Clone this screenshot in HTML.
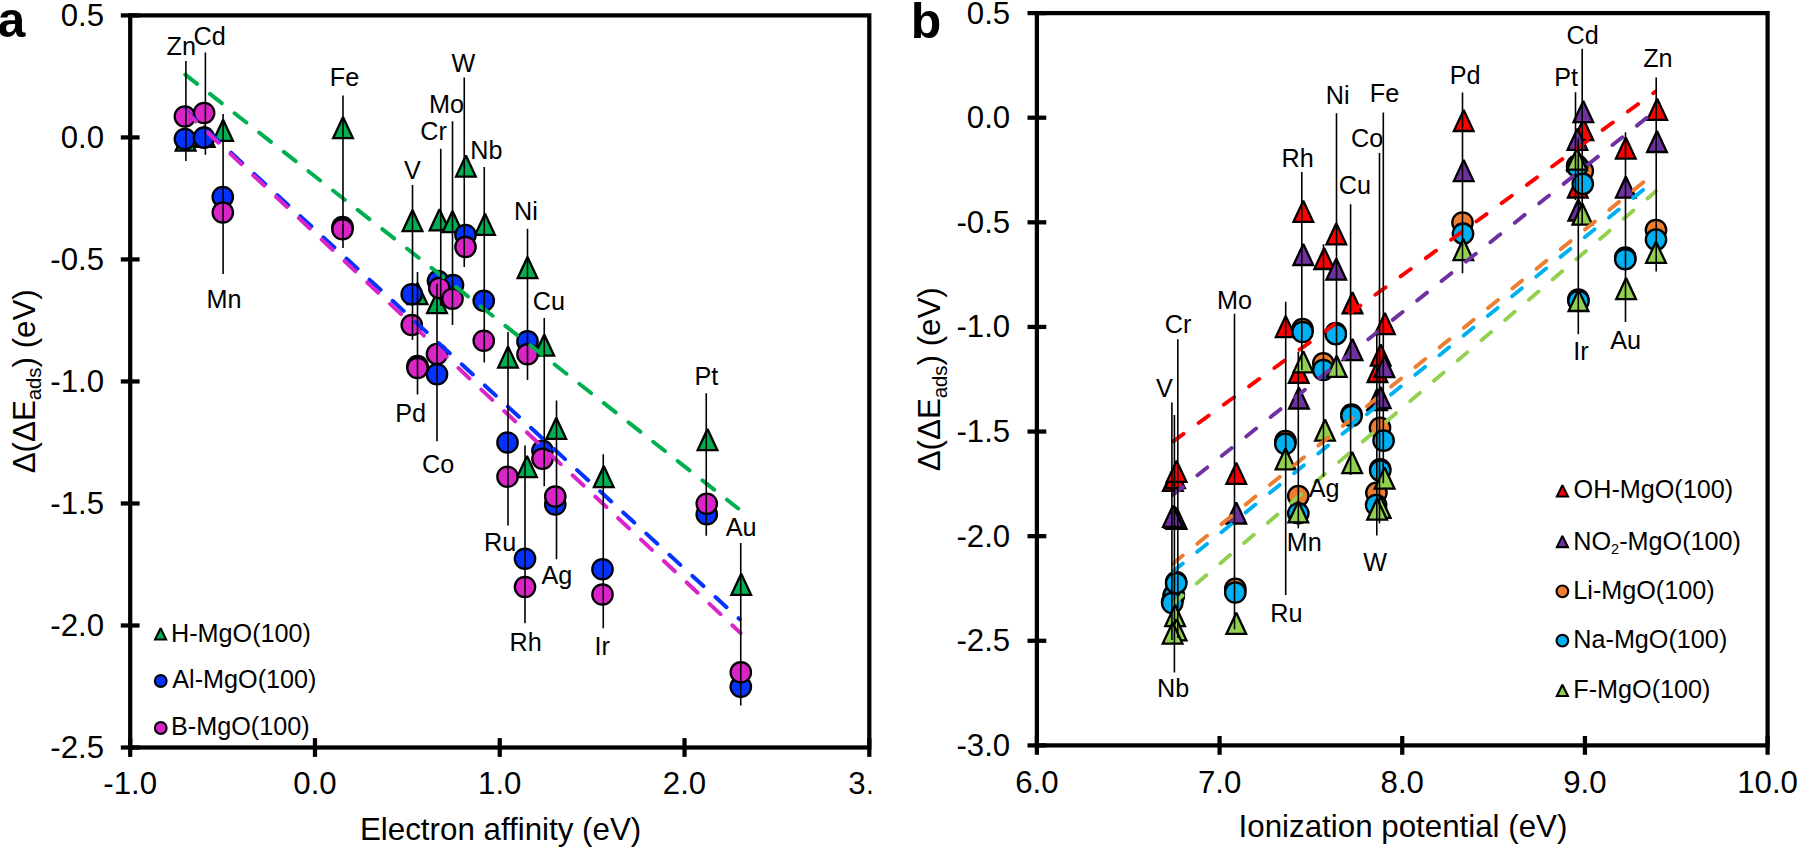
<!DOCTYPE html>
<html lang="en"><head><meta charset="utf-8"><title>Adsorption energy vs electron affinity / ionization potential</title>
<style>html,body{margin:0;padding:0;background:#fff;}body{width:1797px;height:847px;overflow:hidden;}svg{display:block;}</style>
</head><body>
<svg width="1797" height="847" viewBox="0 0 1797 847" font-family='"Liberation Sans", sans-serif' fill="#000">
<defs><clipPath id="clipa"><rect x="0" y="760" width="871.5" height="60"/></clipPath></defs>
<rect width="1797" height="847" fill="#fff"/>
<g id="plot-a">
<rect x="130.20" y="15.40" width="739.10" height="732.10" fill="none" stroke="#000" stroke-width="4.25"/>
<line x1="130.20" y1="738.10" x2="130.20" y2="756.90" stroke="#000" stroke-width="4.25" />
<line x1="314.97" y1="738.10" x2="314.97" y2="756.90" stroke="#000" stroke-width="4.25" />
<line x1="499.75" y1="738.10" x2="499.75" y2="756.90" stroke="#000" stroke-width="4.25" />
<line x1="684.52" y1="738.10" x2="684.52" y2="756.90" stroke="#000" stroke-width="4.25" />
<line x1="869.30" y1="738.10" x2="869.30" y2="756.90" stroke="#000" stroke-width="4.25" />
<line x1="120.80" y1="15.40" x2="139.60" y2="15.40" stroke="#000" stroke-width="4.25" />
<line x1="120.80" y1="137.42" x2="139.60" y2="137.42" stroke="#000" stroke-width="4.25" />
<line x1="120.80" y1="259.43" x2="139.60" y2="259.43" stroke="#000" stroke-width="4.25" />
<line x1="120.80" y1="381.45" x2="139.60" y2="381.45" stroke="#000" stroke-width="4.25" />
<line x1="120.80" y1="503.47" x2="139.60" y2="503.47" stroke="#000" stroke-width="4.25" />
<line x1="120.80" y1="625.48" x2="139.60" y2="625.48" stroke="#000" stroke-width="4.25" />
<line x1="120.80" y1="747.50" x2="139.60" y2="747.50" stroke="#000" stroke-width="4.25" />
<polygon points="185.60,129.46 175.75,150.55 195.45,150.55" fill="#00b050" stroke="#000" stroke-width="2.3" stroke-linejoin="miter" stroke-miterlimit="2"/>
<polygon points="204.70,125.76 194.85,146.85 214.55,146.85" fill="#00b050" stroke="#000" stroke-width="2.3" stroke-linejoin="miter" stroke-miterlimit="2"/>
<polygon points="223.10,119.86 213.25,140.95 232.95,140.95" fill="#00b050" stroke="#000" stroke-width="2.3" stroke-linejoin="miter" stroke-miterlimit="2"/>
<polygon points="343.00,117.11 333.15,138.20 352.85,138.20" fill="#00b050" stroke="#000" stroke-width="2.3" stroke-linejoin="miter" stroke-miterlimit="2"/>
<polygon points="412.50,210.11 402.65,231.20 422.35,231.20" fill="#00b050" stroke="#000" stroke-width="2.3" stroke-linejoin="miter" stroke-miterlimit="2"/>
<polygon points="417.50,283.11 407.65,304.20 427.35,304.20" fill="#00b050" stroke="#000" stroke-width="2.3" stroke-linejoin="miter" stroke-miterlimit="2"/>
<polygon points="437.00,292.11 427.15,313.20 446.85,313.20" fill="#00b050" stroke="#000" stroke-width="2.3" stroke-linejoin="miter" stroke-miterlimit="2"/>
<polygon points="439.50,209.36 429.65,230.45 449.35,230.45" fill="#00b050" stroke="#000" stroke-width="2.3" stroke-linejoin="miter" stroke-miterlimit="2"/>
<polygon points="452.50,211.11 442.65,232.20 462.35,232.20" fill="#00b050" stroke="#000" stroke-width="2.3" stroke-linejoin="miter" stroke-miterlimit="2"/>
<polygon points="465.90,155.51 456.05,176.60 475.75,176.60" fill="#00b050" stroke="#000" stroke-width="2.3" stroke-linejoin="miter" stroke-miterlimit="2"/>
<polygon points="485.00,213.86 475.15,234.95 494.85,234.95" fill="#00b050" stroke="#000" stroke-width="2.3" stroke-linejoin="miter" stroke-miterlimit="2"/>
<polygon points="508.00,346.61 498.15,367.70 517.85,367.70" fill="#00b050" stroke="#000" stroke-width="2.3" stroke-linejoin="miter" stroke-miterlimit="2"/>
<polygon points="527.00,456.11 517.15,477.20 536.85,477.20" fill="#00b050" stroke="#000" stroke-width="2.3" stroke-linejoin="miter" stroke-miterlimit="2"/>
<polygon points="527.50,257.11 517.65,278.20 537.35,278.20" fill="#00b050" stroke="#000" stroke-width="2.3" stroke-linejoin="miter" stroke-miterlimit="2"/>
<polygon points="544.25,334.61 534.40,355.70 554.10,355.70" fill="#00b050" stroke="#000" stroke-width="2.3" stroke-linejoin="miter" stroke-miterlimit="2"/>
<polygon points="556.25,417.71 546.40,438.80 566.10,438.80" fill="#00b050" stroke="#000" stroke-width="2.3" stroke-linejoin="miter" stroke-miterlimit="2"/>
<polygon points="603.75,466.11 593.90,487.20 613.60,487.20" fill="#00b050" stroke="#000" stroke-width="2.3" stroke-linejoin="miter" stroke-miterlimit="2"/>
<polygon points="707.50,429.11 697.65,450.20 717.35,450.20" fill="#00b050" stroke="#000" stroke-width="2.3" stroke-linejoin="miter" stroke-miterlimit="2"/>
<polygon points="741.20,573.71 731.35,594.80 751.05,594.80" fill="#00b050" stroke="#000" stroke-width="2.3" stroke-linejoin="miter" stroke-miterlimit="2"/>
<circle cx="184.90" cy="139.00" r="10.2" fill="#0433ff" stroke="#000" stroke-width="2.3"/>
<circle cx="204.00" cy="137.70" r="10.2" fill="#0433ff" stroke="#000" stroke-width="2.3"/>
<circle cx="222.80" cy="197.00" r="10.2" fill="#0433ff" stroke="#000" stroke-width="2.3"/>
<circle cx="342.50" cy="227.00" r="10.2" fill="#0433ff" stroke="#000" stroke-width="2.3"/>
<circle cx="411.75" cy="294.25" r="10.2" fill="#0433ff" stroke="#000" stroke-width="2.3"/>
<circle cx="417.50" cy="366.00" r="10.2" fill="#0433ff" stroke="#000" stroke-width="2.3"/>
<circle cx="437.00" cy="374.25" r="10.2" fill="#0433ff" stroke="#000" stroke-width="2.3"/>
<circle cx="438.00" cy="281.00" r="10.2" fill="#0433ff" stroke="#000" stroke-width="2.3"/>
<circle cx="453.00" cy="285.00" r="10.2" fill="#0433ff" stroke="#000" stroke-width="2.3"/>
<circle cx="465.50" cy="235.00" r="10.2" fill="#0433ff" stroke="#000" stroke-width="2.3"/>
<circle cx="483.75" cy="300.75" r="10.2" fill="#0433ff" stroke="#000" stroke-width="2.3"/>
<circle cx="507.50" cy="442.50" r="10.2" fill="#0433ff" stroke="#000" stroke-width="2.3"/>
<circle cx="525.00" cy="558.75" r="10.2" fill="#0433ff" stroke="#000" stroke-width="2.3"/>
<circle cx="527.50" cy="341.25" r="10.2" fill="#0433ff" stroke="#000" stroke-width="2.3"/>
<circle cx="542.50" cy="450.75" r="10.2" fill="#0433ff" stroke="#000" stroke-width="2.3"/>
<circle cx="555.25" cy="504.50" r="10.2" fill="#0433ff" stroke="#000" stroke-width="2.3"/>
<circle cx="602.50" cy="569.25" r="10.2" fill="#0433ff" stroke="#000" stroke-width="2.3"/>
<circle cx="706.75" cy="514.25" r="10.2" fill="#0433ff" stroke="#000" stroke-width="2.3"/>
<circle cx="740.80" cy="686.80" r="10.2" fill="#0433ff" stroke="#000" stroke-width="2.3"/>
<circle cx="184.90" cy="116.50" r="10.2" fill="#da24c8" stroke="#000" stroke-width="2.3"/>
<circle cx="204.10" cy="113.00" r="10.2" fill="#da24c8" stroke="#000" stroke-width="2.3"/>
<circle cx="222.80" cy="212.50" r="10.2" fill="#da24c8" stroke="#000" stroke-width="2.3"/>
<circle cx="342.50" cy="229.25" r="10.2" fill="#da24c8" stroke="#000" stroke-width="2.3"/>
<circle cx="411.75" cy="325.00" r="10.2" fill="#da24c8" stroke="#000" stroke-width="2.3"/>
<circle cx="417.50" cy="368.00" r="10.2" fill="#da24c8" stroke="#000" stroke-width="2.3"/>
<circle cx="437.00" cy="354.00" r="10.2" fill="#da24c8" stroke="#000" stroke-width="2.3"/>
<circle cx="439.25" cy="288.00" r="10.2" fill="#da24c8" stroke="#000" stroke-width="2.3"/>
<circle cx="452.50" cy="298.75" r="10.2" fill="#da24c8" stroke="#000" stroke-width="2.3"/>
<circle cx="465.50" cy="247.00" r="10.2" fill="#da24c8" stroke="#000" stroke-width="2.3"/>
<circle cx="483.75" cy="340.75" r="10.2" fill="#da24c8" stroke="#000" stroke-width="2.3"/>
<circle cx="507.50" cy="476.75" r="10.2" fill="#da24c8" stroke="#000" stroke-width="2.3"/>
<circle cx="525.00" cy="587.00" r="10.2" fill="#da24c8" stroke="#000" stroke-width="2.3"/>
<circle cx="527.50" cy="354.25" r="10.2" fill="#da24c8" stroke="#000" stroke-width="2.3"/>
<circle cx="542.50" cy="458.75" r="10.2" fill="#da24c8" stroke="#000" stroke-width="2.3"/>
<circle cx="555.25" cy="496.50" r="10.2" fill="#da24c8" stroke="#000" stroke-width="2.3"/>
<circle cx="602.50" cy="594.50" r="10.2" fill="#da24c8" stroke="#000" stroke-width="2.3"/>
<circle cx="706.75" cy="503.75" r="10.2" fill="#da24c8" stroke="#000" stroke-width="2.3"/>
<circle cx="740.80" cy="672.30" r="10.2" fill="#da24c8" stroke="#000" stroke-width="2.3"/>
<line x1="185.30" y1="74.60" x2="738.20" y2="508.50" stroke="#00b050" stroke-width="4.0" stroke-dasharray="15 16.3" stroke-linecap="round" fill="none"/>
<line x1="185.00" y1="110.40" x2="739.80" y2="619.40" stroke="#0433ff" stroke-width="4.0" stroke-dasharray="15 16.3" stroke-linecap="round" fill="none"/>
<line x1="184.80" y1="111.00" x2="740.60" y2="633.10" stroke="#da24c8" stroke-width="4.0" stroke-dasharray="15 16.3" stroke-linecap="round" fill="none"/>
<line x1="185.90" y1="61.00" x2="185.90" y2="161.00" stroke="#000" stroke-width="1.6" />
<line x1="205.40" y1="52.50" x2="205.40" y2="154.80" stroke="#000" stroke-width="1.6" />
<line x1="223.10" y1="114.00" x2="223.10" y2="274.00" stroke="#000" stroke-width="1.6" />
<line x1="343.00" y1="95.50" x2="343.00" y2="248.00" stroke="#000" stroke-width="1.6" />
<line x1="412.50" y1="185.00" x2="412.50" y2="340.00" stroke="#000" stroke-width="1.6" />
<line x1="417.50" y1="272.00" x2="417.50" y2="394.50" stroke="#000" stroke-width="1.6" />
<line x1="437.00" y1="283.75" x2="437.00" y2="441.25" stroke="#000" stroke-width="1.6" />
<line x1="440.75" y1="148.75" x2="440.75" y2="306.00" stroke="#000" stroke-width="1.6" />
<line x1="452.50" y1="121.25" x2="452.50" y2="325.00" stroke="#000" stroke-width="1.6" />
<line x1="464.25" y1="77.50" x2="464.25" y2="267.00" stroke="#000" stroke-width="1.6" />
<line x1="484.25" y1="167.00" x2="484.25" y2="362.50" stroke="#000" stroke-width="1.6" />
<line x1="508.00" y1="332.00" x2="508.00" y2="525.50" stroke="#000" stroke-width="1.6" />
<line x1="525.00" y1="445.50" x2="525.00" y2="623.25" stroke="#000" stroke-width="1.6" />
<line x1="527.50" y1="228.75" x2="527.50" y2="380.00" stroke="#000" stroke-width="1.6" />
<line x1="544.25" y1="318.00" x2="544.25" y2="486.25" stroke="#000" stroke-width="1.6" />
<line x1="556.50" y1="400.50" x2="556.50" y2="559.25" stroke="#000" stroke-width="1.6" />
<line x1="603.25" y1="454.25" x2="603.25" y2="628.25" stroke="#000" stroke-width="1.6" />
<line x1="706.25" y1="393.25" x2="706.25" y2="535.75" stroke="#000" stroke-width="1.6" />
<line x1="740.75" y1="543.00" x2="740.75" y2="705.50" stroke="#000" stroke-width="1.6" />
<g font-size="25.2">
<text x="166.50" y="54.95">Zn</text>
<text x="193.50" y="45.20">Cd</text>
<text x="206.50" y="308.20">Mn</text>
<text x="329.75" y="86.45">Fe</text>
<text x="404.00" y="178.70">V</text>
<text x="395.25" y="421.95">Pd</text>
<text x="422.00" y="473.20">Co</text>
<text x="420.25" y="140.20">Cr</text>
<text x="429.00" y="112.70">Mo</text>
<text x="451.50" y="71.95">W</text>
<text x="470.25" y="158.95">Nb</text>
<text x="484.00" y="550.70">Ru</text>
<text x="509.50" y="651.45">Rh</text>
<text x="514.00" y="220.20">Ni</text>
<text x="532.75" y="309.95">Cu</text>
<text x="541.50" y="583.70">Ag</text>
<text x="594.50" y="654.95">Ir</text>
<text x="694.50" y="385.20">Pt</text>
<text x="725.75" y="535.70">Au</text>
</g>
<g font-size="31.2" text-anchor="middle">
<text x="130.20" y="794">-1.0</text>
<text x="314.97" y="794">0.0</text>
<text x="499.75" y="794">1.0</text>
<text x="684.52" y="794">2.0</text>
</g>
<text x="848.30" y="794" font-size="31.2" clip-path="url(#clipa)">3.0</text>
<g font-size="31.2" text-anchor="end">
<text x="104" y="26.30">0.5</text>
<text x="104" y="148.32">0.0</text>
<text x="104" y="270.33">-0.5</text>
<text x="104" y="392.35">-1.0</text>
<text x="104" y="514.37">-1.5</text>
<text x="104" y="636.38">-2.0</text>
<text x="104" y="758.40">-2.5</text>
</g>
<text x="500.60" y="839.70" font-size="31.3" text-anchor="middle" >Electron affinity (eV)</text>
<text transform="translate(34.6,473.3) rotate(-90)" font-size="31.3">Δ(ΔE<tspan font-size="20.3" dy="6.5">ads</tspan><tspan dy="-6.5">) (eV)</tspan></text>
<polygon points="160.60,628.26 155.08,639.51 166.12,639.51" fill="#00b050" stroke="#000" stroke-width="2.1" stroke-linejoin="miter" stroke-miterlimit="2"/>
<circle cx="160.75" cy="681.00" r="5.85" fill="#0433ff" stroke="#000" stroke-width="2.1"/>
<circle cx="160.75" cy="728.00" r="5.85" fill="#da24c8" stroke="#000" stroke-width="2.1"/>
<g font-size="25.2">
<text x="171" y="641.5">H-MgO(100)</text>
<text x="172.3" y="687.7">Al-MgO(100)</text>
<text x="171" y="734.5">B-MgO(100)</text>
</g>
<text x="-2.5" y="37.4" font-size="50" font-weight="bold">a</text>
</g>
<g id="plot-b">
<rect x="1036.90" y="13.10" width="730.70" height="732.30" fill="none" stroke="#000" stroke-width="4.25"/>
<line x1="1036.90" y1="736.00" x2="1036.90" y2="754.80" stroke="#000" stroke-width="4.25" />
<line x1="1219.58" y1="736.00" x2="1219.58" y2="754.80" stroke="#000" stroke-width="4.25" />
<line x1="1402.25" y1="736.00" x2="1402.25" y2="754.80" stroke="#000" stroke-width="4.25" />
<line x1="1584.92" y1="736.00" x2="1584.92" y2="754.80" stroke="#000" stroke-width="4.25" />
<line x1="1767.60" y1="736.00" x2="1767.60" y2="754.80" stroke="#000" stroke-width="4.25" />
<line x1="1027.50" y1="13.10" x2="1046.30" y2="13.10" stroke="#000" stroke-width="4.25" />
<line x1="1027.50" y1="117.71" x2="1046.30" y2="117.71" stroke="#000" stroke-width="4.25" />
<line x1="1027.50" y1="222.33" x2="1046.30" y2="222.33" stroke="#000" stroke-width="4.25" />
<line x1="1027.50" y1="326.94" x2="1046.30" y2="326.94" stroke="#000" stroke-width="4.25" />
<line x1="1027.50" y1="431.56" x2="1046.30" y2="431.56" stroke="#000" stroke-width="4.25" />
<line x1="1027.50" y1="536.17" x2="1046.30" y2="536.17" stroke="#000" stroke-width="4.25" />
<line x1="1027.50" y1="640.79" x2="1046.30" y2="640.79" stroke="#000" stroke-width="4.25" />
<line x1="1027.50" y1="745.40" x2="1046.30" y2="745.40" stroke="#000" stroke-width="4.25" />
<polygon points="1172.90,469.71 1163.05,490.80 1182.75,490.80" fill="#ff0000" stroke="#000" stroke-width="2.3" stroke-linejoin="miter" stroke-miterlimit="2"/>
<polygon points="1175.00,467.11 1165.15,488.20 1184.85,488.20" fill="#ff0000" stroke="#000" stroke-width="2.3" stroke-linejoin="miter" stroke-miterlimit="2"/>
<polygon points="1176.60,460.71 1166.75,481.80 1186.45,481.80" fill="#ff0000" stroke="#000" stroke-width="2.3" stroke-linejoin="miter" stroke-miterlimit="2"/>
<polygon points="1236.30,462.71 1226.45,483.80 1246.15,483.80" fill="#ff0000" stroke="#000" stroke-width="2.3" stroke-linejoin="miter" stroke-miterlimit="2"/>
<polygon points="1285.70,316.01 1275.85,337.10 1295.55,337.10" fill="#ff0000" stroke="#000" stroke-width="2.3" stroke-linejoin="miter" stroke-miterlimit="2"/>
<polygon points="1298.70,361.81 1288.85,382.90 1308.55,382.90" fill="#ff0000" stroke="#000" stroke-width="2.3" stroke-linejoin="miter" stroke-miterlimit="2"/>
<polygon points="1303.30,200.81 1293.45,221.90 1313.15,221.90" fill="#ff0000" stroke="#000" stroke-width="2.3" stroke-linejoin="miter" stroke-miterlimit="2"/>
<polygon points="1324.20,247.91 1314.35,269.00 1334.05,269.00" fill="#ff0000" stroke="#000" stroke-width="2.3" stroke-linejoin="miter" stroke-miterlimit="2"/>
<polygon points="1336.30,223.31 1326.45,244.40 1346.15,244.40" fill="#ff0000" stroke="#000" stroke-width="2.3" stroke-linejoin="miter" stroke-miterlimit="2"/>
<polygon points="1352.50,292.31 1342.65,313.40 1362.35,313.40" fill="#ff0000" stroke="#000" stroke-width="2.3" stroke-linejoin="miter" stroke-miterlimit="2"/>
<polygon points="1377.40,360.91 1367.55,382.00 1387.25,382.00" fill="#ff0000" stroke="#000" stroke-width="2.3" stroke-linejoin="miter" stroke-miterlimit="2"/>
<polygon points="1380.70,344.51 1370.85,365.60 1390.55,365.60" fill="#ff0000" stroke="#000" stroke-width="2.3" stroke-linejoin="miter" stroke-miterlimit="2"/>
<polygon points="1384.90,313.01 1375.05,334.10 1394.75,334.10" fill="#ff0000" stroke="#000" stroke-width="2.3" stroke-linejoin="miter" stroke-miterlimit="2"/>
<polygon points="1463.70,109.91 1453.85,131.00 1473.55,131.00" fill="#ff0000" stroke="#000" stroke-width="2.3" stroke-linejoin="miter" stroke-miterlimit="2"/>
<polygon points="1577.40,150.11 1567.55,171.20 1587.25,171.20" fill="#ff0000" stroke="#000" stroke-width="2.3" stroke-linejoin="miter" stroke-miterlimit="2"/>
<polygon points="1577.80,176.41 1567.95,197.50 1587.65,197.50" fill="#ff0000" stroke="#000" stroke-width="2.3" stroke-linejoin="miter" stroke-miterlimit="2"/>
<polygon points="1583.40,119.11 1573.55,140.20 1593.25,140.20" fill="#ff0000" stroke="#000" stroke-width="2.3" stroke-linejoin="miter" stroke-miterlimit="2"/>
<polygon points="1625.80,137.51 1615.95,158.60 1635.65,158.60" fill="#ff0000" stroke="#000" stroke-width="2.3" stroke-linejoin="miter" stroke-miterlimit="2"/>
<polygon points="1657.20,98.71 1647.35,119.80 1667.05,119.80" fill="#ff0000" stroke="#000" stroke-width="2.3" stroke-linejoin="miter" stroke-miterlimit="2"/>
<polygon points="1174.80,506.71 1164.95,527.80 1184.65,527.80" fill="#7030a0" stroke="#000" stroke-width="2.3" stroke-linejoin="miter" stroke-miterlimit="2"/>
<polygon points="1176.60,507.71 1166.75,528.80 1186.45,528.80" fill="#7030a0" stroke="#000" stroke-width="2.3" stroke-linejoin="miter" stroke-miterlimit="2"/>
<polygon points="1236.30,502.41 1226.45,523.50 1246.15,523.50" fill="#7030a0" stroke="#000" stroke-width="2.3" stroke-linejoin="miter" stroke-miterlimit="2"/>
<polygon points="1298.90,387.41 1289.05,408.50 1308.75,408.50" fill="#7030a0" stroke="#000" stroke-width="2.3" stroke-linejoin="miter" stroke-miterlimit="2"/>
<polygon points="1303.30,243.91 1293.45,265.00 1313.15,265.00" fill="#7030a0" stroke="#000" stroke-width="2.3" stroke-linejoin="miter" stroke-miterlimit="2"/>
<polygon points="1336.30,258.61 1326.45,279.70 1346.15,279.70" fill="#7030a0" stroke="#000" stroke-width="2.3" stroke-linejoin="miter" stroke-miterlimit="2"/>
<polygon points="1352.50,339.01 1342.65,360.10 1362.35,360.10" fill="#7030a0" stroke="#000" stroke-width="2.3" stroke-linejoin="miter" stroke-miterlimit="2"/>
<polygon points="1377.10,389.11 1367.25,410.20 1386.95,410.20" fill="#7030a0" stroke="#000" stroke-width="2.3" stroke-linejoin="miter" stroke-miterlimit="2"/>
<polygon points="1380.70,387.11 1370.85,408.20 1390.55,408.20" fill="#7030a0" stroke="#000" stroke-width="2.3" stroke-linejoin="miter" stroke-miterlimit="2"/>
<polygon points="1384.40,356.11 1374.55,377.20 1394.25,377.20" fill="#7030a0" stroke="#000" stroke-width="2.3" stroke-linejoin="miter" stroke-miterlimit="2"/>
<polygon points="1463.70,160.11 1453.85,181.20 1473.55,181.20" fill="#7030a0" stroke="#000" stroke-width="2.3" stroke-linejoin="miter" stroke-miterlimit="2"/>
<polygon points="1577.40,128.81 1567.55,149.90 1587.25,149.90" fill="#7030a0" stroke="#000" stroke-width="2.3" stroke-linejoin="miter" stroke-miterlimit="2"/>
<polygon points="1578.30,199.41 1568.45,220.50 1588.15,220.50" fill="#7030a0" stroke="#000" stroke-width="2.3" stroke-linejoin="miter" stroke-miterlimit="2"/>
<polygon points="1583.30,101.11 1573.45,122.20 1593.15,122.20" fill="#7030a0" stroke="#000" stroke-width="2.3" stroke-linejoin="miter" stroke-miterlimit="2"/>
<polygon points="1625.80,176.61 1615.95,197.70 1635.65,197.70" fill="#7030a0" stroke="#000" stroke-width="2.3" stroke-linejoin="miter" stroke-miterlimit="2"/>
<polygon points="1657.00,130.91 1647.15,152.00 1666.85,152.00" fill="#7030a0" stroke="#000" stroke-width="2.3" stroke-linejoin="miter" stroke-miterlimit="2"/>
<polygon points="1172.90,505.71 1163.05,526.80 1182.75,526.80" fill="#7030a0" stroke="#000" stroke-width="2.3" stroke-linejoin="miter" stroke-miterlimit="2"/>
<circle cx="1172.20" cy="601.80" r="10.2" fill="#ed7d31" stroke="#000" stroke-width="2.3"/>
<circle cx="1173.80" cy="595.00" r="10.2" fill="#ed7d31" stroke="#000" stroke-width="2.3"/>
<circle cx="1176.20" cy="582.00" r="10.2" fill="#ed7d31" stroke="#000" stroke-width="2.3"/>
<circle cx="1235.30" cy="588.90" r="10.2" fill="#ed7d31" stroke="#000" stroke-width="2.3"/>
<circle cx="1285.50" cy="441.00" r="10.2" fill="#ed7d31" stroke="#000" stroke-width="2.3"/>
<circle cx="1298.30" cy="496.10" r="10.2" fill="#ed7d31" stroke="#000" stroke-width="2.3"/>
<circle cx="1302.50" cy="329.00" r="10.2" fill="#ed7d31" stroke="#000" stroke-width="2.3"/>
<circle cx="1323.30" cy="363.30" r="10.2" fill="#ed7d31" stroke="#000" stroke-width="2.3"/>
<circle cx="1335.80" cy="333.00" r="10.2" fill="#ed7d31" stroke="#000" stroke-width="2.3"/>
<circle cx="1351.50" cy="414.60" r="10.2" fill="#ed7d31" stroke="#000" stroke-width="2.3"/>
<circle cx="1376.40" cy="492.80" r="10.2" fill="#ed7d31" stroke="#000" stroke-width="2.3"/>
<circle cx="1380.20" cy="469.30" r="10.2" fill="#ed7d31" stroke="#000" stroke-width="2.3"/>
<circle cx="1380.00" cy="427.80" r="10.2" fill="#ed7d31" stroke="#000" stroke-width="2.3"/>
<circle cx="1462.50" cy="222.50" r="10.2" fill="#ed7d31" stroke="#000" stroke-width="2.3"/>
<circle cx="1577.20" cy="165.50" r="10.2" fill="#ed7d31" stroke="#000" stroke-width="2.3"/>
<circle cx="1578.30" cy="299.50" r="10.2" fill="#ed7d31" stroke="#000" stroke-width="2.3"/>
<circle cx="1582.80" cy="171.10" r="10.2" fill="#ed7d31" stroke="#000" stroke-width="2.3"/>
<circle cx="1625.30" cy="257.50" r="10.2" fill="#ed7d31" stroke="#000" stroke-width="2.3"/>
<circle cx="1656.00" cy="230.00" r="10.2" fill="#ed7d31" stroke="#000" stroke-width="2.3"/>
<circle cx="1173.80" cy="596.00" r="10.2" fill="#00b0f0" stroke="#000" stroke-width="2.3"/>
<circle cx="1176.20" cy="583.20" r="10.2" fill="#00b0f0" stroke="#000" stroke-width="2.3"/>
<circle cx="1235.30" cy="592.50" r="10.2" fill="#00b0f0" stroke="#000" stroke-width="2.3"/>
<circle cx="1285.30" cy="443.80" r="10.2" fill="#00b0f0" stroke="#000" stroke-width="2.3"/>
<circle cx="1298.30" cy="513.30" r="10.2" fill="#00b0f0" stroke="#000" stroke-width="2.3"/>
<circle cx="1302.50" cy="332.00" r="10.2" fill="#00b0f0" stroke="#000" stroke-width="2.3"/>
<circle cx="1323.30" cy="370.00" r="10.2" fill="#00b0f0" stroke="#000" stroke-width="2.3"/>
<circle cx="1335.80" cy="334.20" r="10.2" fill="#00b0f0" stroke="#000" stroke-width="2.3"/>
<circle cx="1351.50" cy="416.00" r="10.2" fill="#00b0f0" stroke="#000" stroke-width="2.3"/>
<circle cx="1376.10" cy="505.00" r="10.2" fill="#00b0f0" stroke="#000" stroke-width="2.3"/>
<circle cx="1380.20" cy="470.60" r="10.2" fill="#00b0f0" stroke="#000" stroke-width="2.3"/>
<circle cx="1383.60" cy="440.60" r="10.2" fill="#00b0f0" stroke="#000" stroke-width="2.3"/>
<circle cx="1463.00" cy="233.70" r="10.2" fill="#00b0f0" stroke="#000" stroke-width="2.3"/>
<circle cx="1577.20" cy="166.70" r="10.2" fill="#00b0f0" stroke="#000" stroke-width="2.3"/>
<circle cx="1578.50" cy="301.00" r="10.2" fill="#00b0f0" stroke="#000" stroke-width="2.3"/>
<circle cx="1582.80" cy="183.90" r="10.2" fill="#00b0f0" stroke="#000" stroke-width="2.3"/>
<circle cx="1625.30" cy="259.20" r="10.2" fill="#00b0f0" stroke="#000" stroke-width="2.3"/>
<circle cx="1656.00" cy="239.60" r="10.2" fill="#00b0f0" stroke="#000" stroke-width="2.3"/>
<circle cx="1172.20" cy="603.00" r="10.2" fill="#00b0f0" stroke="#000" stroke-width="2.3"/>
<polygon points="1175.10,605.11 1165.25,626.20 1184.95,626.20" fill="#92d050" stroke="#000" stroke-width="2.3" stroke-linejoin="miter" stroke-miterlimit="2"/>
<polygon points="1176.60,619.21 1166.75,640.30 1186.45,640.30" fill="#92d050" stroke="#000" stroke-width="2.3" stroke-linejoin="miter" stroke-miterlimit="2"/>
<polygon points="1236.30,612.81 1226.45,633.90 1246.15,633.90" fill="#92d050" stroke="#000" stroke-width="2.3" stroke-linejoin="miter" stroke-miterlimit="2"/>
<polygon points="1285.50,448.31 1275.65,469.40 1295.35,469.40" fill="#92d050" stroke="#000" stroke-width="2.3" stroke-linejoin="miter" stroke-miterlimit="2"/>
<polygon points="1298.30,501.31 1288.45,522.40 1308.15,522.40" fill="#92d050" stroke="#000" stroke-width="2.3" stroke-linejoin="miter" stroke-miterlimit="2"/>
<polygon points="1303.30,351.21 1293.45,372.30 1313.15,372.30" fill="#92d050" stroke="#000" stroke-width="2.3" stroke-linejoin="miter" stroke-miterlimit="2"/>
<polygon points="1325.00,419.61 1315.15,440.70 1334.85,440.70" fill="#92d050" stroke="#000" stroke-width="2.3" stroke-linejoin="miter" stroke-miterlimit="2"/>
<polygon points="1336.70,355.81 1326.85,376.90 1346.55,376.90" fill="#92d050" stroke="#000" stroke-width="2.3" stroke-linejoin="miter" stroke-miterlimit="2"/>
<polygon points="1352.20,452.11 1342.35,473.20 1362.05,473.20" fill="#92d050" stroke="#000" stroke-width="2.3" stroke-linejoin="miter" stroke-miterlimit="2"/>
<polygon points="1380.70,496.81 1370.85,517.90 1390.55,517.90" fill="#92d050" stroke="#000" stroke-width="2.3" stroke-linejoin="miter" stroke-miterlimit="2"/>
<polygon points="1384.60,467.51 1374.75,488.60 1394.45,488.60" fill="#92d050" stroke="#000" stroke-width="2.3" stroke-linejoin="miter" stroke-miterlimit="2"/>
<polygon points="1463.30,239.11 1453.45,260.20 1473.15,260.20" fill="#92d050" stroke="#000" stroke-width="2.3" stroke-linejoin="miter" stroke-miterlimit="2"/>
<polygon points="1576.90,148.61 1567.05,169.70 1586.75,169.70" fill="#92d050" stroke="#000" stroke-width="2.3" stroke-linejoin="miter" stroke-miterlimit="2"/>
<polygon points="1578.50,289.91 1568.65,311.00 1588.35,311.00" fill="#92d050" stroke="#000" stroke-width="2.3" stroke-linejoin="miter" stroke-miterlimit="2"/>
<polygon points="1582.40,203.61 1572.55,224.70 1592.25,224.70" fill="#92d050" stroke="#000" stroke-width="2.3" stroke-linejoin="miter" stroke-miterlimit="2"/>
<polygon points="1626.10,278.11 1616.25,299.20 1635.95,299.20" fill="#92d050" stroke="#000" stroke-width="2.3" stroke-linejoin="miter" stroke-miterlimit="2"/>
<polygon points="1656.00,241.71 1646.15,262.80 1665.85,262.80" fill="#92d050" stroke="#000" stroke-width="2.3" stroke-linejoin="miter" stroke-miterlimit="2"/>
<polygon points="1172.60,622.51 1162.75,643.60 1182.45,643.60" fill="#92d050" stroke="#000" stroke-width="2.3" stroke-linejoin="miter" stroke-miterlimit="2"/>
<polygon points="1377.10,498.61 1367.25,519.70 1386.95,519.70" fill="#92d050" stroke="#000" stroke-width="2.3" stroke-linejoin="miter" stroke-miterlimit="2"/>
<line x1="1173.30" y1="441.30" x2="1655.10" y2="91.80" stroke="#ff0000" stroke-width="3.9" stroke-dasharray="12.6 18.6" stroke-linecap="round" fill="none"/>
<line x1="1173.00" y1="494.70" x2="1655.00" y2="111.20" stroke="#7030a0" stroke-width="3.9" stroke-dasharray="12.6 18.6" stroke-linecap="round" fill="none"/>
<line x1="1173.00" y1="563.40" x2="1655.00" y2="172.80" stroke="#ed7d31" stroke-width="3.9" stroke-dasharray="12.6 18.6" stroke-linecap="round" fill="none"/>
<line x1="1173.00" y1="571.50" x2="1655.00" y2="180.20" stroke="#00b0f0" stroke-width="3.9" stroke-dasharray="12.6 18.6" stroke-linecap="round" fill="none"/>
<line x1="1173.00" y1="603.70" x2="1656.00" y2="191.20" stroke="#92d050" stroke-width="3.9" stroke-dasharray="12.6 18.6" stroke-linecap="round" fill="none"/>
<line x1="1171.90" y1="402.50" x2="1171.90" y2="640.00" stroke="#000" stroke-width="1.6" />
<line x1="1174.40" y1="415.00" x2="1174.40" y2="672.50" stroke="#000" stroke-width="1.6" />
<line x1="1177.80" y1="339.20" x2="1177.80" y2="638.00" stroke="#000" stroke-width="1.6" />
<line x1="1234.50" y1="313.80" x2="1234.50" y2="629.20" stroke="#000" stroke-width="1.6" />
<line x1="1285.70" y1="301.70" x2="1285.70" y2="595.00" stroke="#000" stroke-width="1.6" />
<line x1="1298.30" y1="351.70" x2="1298.30" y2="528.30" stroke="#000" stroke-width="1.6" />
<line x1="1301.80" y1="172.00" x2="1301.80" y2="370.00" stroke="#000" stroke-width="1.6" />
<line x1="1323.50" y1="244.20" x2="1323.50" y2="476.70" stroke="#000" stroke-width="1.6" />
<line x1="1336.50" y1="113.30" x2="1336.50" y2="378.00" stroke="#000" stroke-width="1.6" />
<line x1="1350.60" y1="204.20" x2="1350.60" y2="475.00" stroke="#000" stroke-width="1.6" />
<line x1="1376.80" y1="334.40" x2="1376.80" y2="535.60" stroke="#000" stroke-width="1.6" />
<line x1="1379.50" y1="153.00" x2="1379.50" y2="523.60" stroke="#000" stroke-width="1.6" />
<line x1="1383.30" y1="112.50" x2="1383.30" y2="483.30" stroke="#000" stroke-width="1.6" />
<line x1="1462.50" y1="92.50" x2="1462.50" y2="273.30" stroke="#000" stroke-width="1.6" />
<line x1="1575.50" y1="92.20" x2="1575.50" y2="200.00" stroke="#000" stroke-width="1.6" />
<line x1="1578.30" y1="138.30" x2="1578.30" y2="334.20" stroke="#000" stroke-width="1.6" />
<line x1="1582.20" y1="48.70" x2="1582.20" y2="225.00" stroke="#000" stroke-width="1.6" />
<line x1="1625.50" y1="132.30" x2="1625.50" y2="322.00" stroke="#000" stroke-width="1.6" />
<line x1="1656.20" y1="77.50" x2="1656.20" y2="271.40" stroke="#000" stroke-width="1.6" />
<g font-size="25.2">
<text x="1156.00" y="396.50">V</text>
<text x="1157.00" y="697.20">Nb</text>
<text x="1164.80" y="333.20">Cr</text>
<text x="1217.00" y="308.70">Mo</text>
<text x="1270.30" y="622.40">Ru</text>
<text x="1286.80" y="550.50">Mn</text>
<text x="1281.50" y="167.40">Rh</text>
<text x="1308.80" y="497.40">Ag</text>
<text x="1325.70" y="103.70">Ni</text>
<text x="1338.70" y="194.00">Cu</text>
<text x="1363.30" y="571.40">W</text>
<text x="1351.00" y="147.40">Co</text>
<text x="1369.80" y="101.50">Fe</text>
<text x="1449.80" y="84.00">Pd</text>
<text x="1554.30" y="86.00">Pt</text>
<text x="1573.20" y="359.90">Ir</text>
<text x="1566.50" y="44.00">Cd</text>
<text x="1610.30" y="349.40">Au</text>
<text x="1643.20" y="67.00">Zn</text>
</g>
<g font-size="31.2" text-anchor="middle">
<text x="1036.90" y="792.8">6.0</text>
<text x="1219.58" y="792.8">7.0</text>
<text x="1402.25" y="792.8">8.0</text>
<text x="1584.92" y="792.8">9.0</text>
<text x="1767.60" y="792.8">10.0</text>
</g>
<g font-size="31.2" text-anchor="end">
<text x="1010.2" y="23.50">0.5</text>
<text x="1010.2" y="128.11">0.0</text>
<text x="1010.2" y="232.73">-0.5</text>
<text x="1010.2" y="337.34">-1.0</text>
<text x="1010.2" y="441.96">-1.5</text>
<text x="1010.2" y="546.57">-2.0</text>
<text x="1010.2" y="651.19">-2.5</text>
<text x="1010.2" y="755.80">-3.0</text>
</g>
<text x="1403.00" y="837.00" font-size="31.3" text-anchor="middle" >Ionization potential (eV)</text>
<text transform="translate(940.2,471.3) rotate(-90)" font-size="31.3">Δ(ΔE<tspan font-size="20.3" dy="6.5">ads</tspan><tspan dy="-6.5">) (eV)</tspan></text>
<polygon points="1562.40,485.26 1556.88,496.51 1567.92,496.51" fill="#ff0000" stroke="#000" stroke-width="2.1" stroke-linejoin="miter" stroke-miterlimit="2"/>
<polygon points="1562.40,535.86 1556.88,547.11 1567.92,547.11" fill="#7030a0" stroke="#000" stroke-width="2.1" stroke-linejoin="miter" stroke-miterlimit="2"/>
<circle cx="1562.40" cy="591.40" r="5.85" fill="#ed7d31" stroke="#000" stroke-width="2.1"/>
<circle cx="1562.40" cy="640.70" r="5.85" fill="#00b0f0" stroke="#000" stroke-width="2.1"/>
<polygon points="1562.40,684.76 1556.88,696.01 1567.92,696.01" fill="#92d050" stroke="#000" stroke-width="2.1" stroke-linejoin="miter" stroke-miterlimit="2"/>
<g font-size="25.2">
<text x="1573.6" y="498">OH-MgO(100)</text>
<text x="1573.3" y="549.5">NO<tspan font-size="14.5" dy="4.5">2</tspan><tspan dy="-4.5">-MgO(100)</tspan></text>
<text x="1573.3" y="598.7">Li-MgO(100)</text>
<text x="1573.3" y="647.9">Na-MgO(100)</text>
<text x="1573.3" y="697.5">F-MgO(100)</text>
</g>
<text x="910.8" y="38" font-size="50" font-weight="bold">b</text>
</g>
</svg>
</body></html>
